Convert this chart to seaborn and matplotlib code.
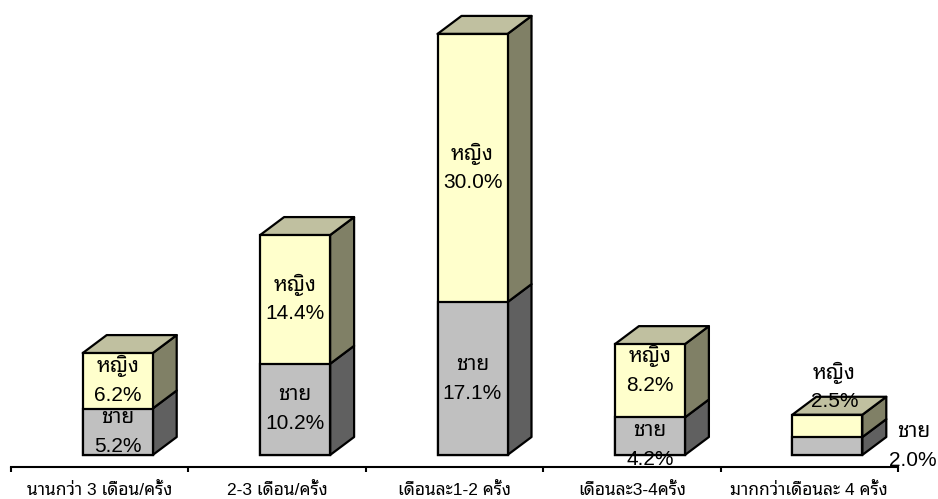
import matplotlib
matplotlib.use("Agg")
import matplotlib.pyplot as plt
from matplotlib.patches import Polygon
import numpy as np
import pandas as pd
import seaborn as sns

# Share of respondents by frequency and sex (percent)
frequency = ["นานกว่า 3 เดือน/ครั้ง", "2-3 เดือน/ครั้ง", "เดือนละ1-2 ครั้ง",
             "เดือนละ3-4ครั้ง", "มากกว่าเดือนละ 4 ครั้ง"]
male = [5.2, 10.2, 17.1, 4.2, 2.0]
female = [6.2, 14.4, 30.0, 8.2, 2.5]
male_name = "ชาย"
female_name = "หญิง"

# Manual label shifts in pixels (right, down), as placed by hand on the small bars
male_shift = [(0, 0), (0, 0), (0, 0), (0, 9), (86, 0)]
female_shift = [(0, 0), (0, 0), (0, 0), (0, -10), (7, -39)]

W, H = 938, 499
PX_PER_CAT = 177.4
PX_PER_PCT = 8.94
LEFT_PX, BASE_PX = 11, 455
DEPTH_X = 24 / PX_PER_CAT
DEPTH_Y = 18 / PX_PER_PCT
BAR_WIDTH = 70 / PX_PER_CAT
BAR_SHIFT = 18 / PX_PER_CAT

sns.set_theme(style="white")
text_font = ["Liberation Sans", "Noto Sans Thai Looped", "IBM Plex Sans Thai"]
plt.rcParams["font.family"] = text_font

fig = plt.figure(figsize=(W / 100, H / 100), dpi=100)
ax = fig.add_axes([0, 0, 1, 1])

pos = np.arange(len(frequency))
male_arr = np.array(male)
female_arr = np.array(female)
total = male_arr + female_arr
df = pd.DataFrame({"x": pos + BAR_SHIFT, "total": total, "male": male_arr})

edge = dict(edgecolor="black", linewidth=1.6)
sns.barplot(data=df, x="x", y="total", native_scale=True, width=BAR_WIDTH,
            color="#FFFFCC", saturation=1, ax=ax, zorder=3, **edge)
sns.barplot(data=df, x="x", y="male", native_scale=True, width=BAR_WIDTH,
            color="#C0C0C0", saturation=1, ax=ax, zorder=4, **edge)

# Oblique side and top faces that give each stack its depth
for xc, m, t in zip(df["x"], male_arr, total):
    r = xc + BAR_WIDTH / 2
    l = xc - BAR_WIDTH / 2
    faces = [
        ([(r, 0), (r + DEPTH_X, DEPTH_Y), (r + DEPTH_X, m + DEPTH_Y), (r, m)], "#606060"),
        ([(r, m), (r + DEPTH_X, m + DEPTH_Y), (r + DEPTH_X, t + DEPTH_Y), (r, t)], "#808066"),
        ([(l, t), (l + DEPTH_X, t + DEPTH_Y), (r + DEPTH_X, t + DEPTH_Y), (r, t)], "#C0C0A0"),
    ]
    for pts, colour in faces:
        ax.add_patch(Polygon(pts, closed=True, facecolor=colour, edgecolor="black",
                             linewidth=1.6, joinstyle="round", zorder=2))

# Two-line value labels centred on each segment
line_gap = 14.5
for i, xc in enumerate(df["x"]):
    segments = [
        (male_name, male_arr[i], male_arr[i] / 2, male_shift[i]),
        (female_name, female_arr[i], male_arr[i] + female_arr[i] / 2, female_shift[i]),
    ]
    for name, value, mid, (sx, sy) in segments:
        x = xc + sx / PX_PER_CAT
        y = mid - sy / PX_PER_PCT
        ax.text(x, y + line_gap / PX_PER_PCT, name, ha="center", va="center",
                fontsize=15, color="black", zorder=6)
        ax.text(x, y - line_gap / PX_PER_PCT, f"{value:.1f}%", ha="center", va="center",
                fontsize=15, color="black", zorder=6)

# Pixel-aligned data limits
ax.set_xlim(-0.5 - LEFT_PX / PX_PER_CAT, -0.5 + (W - LEFT_PX) / PX_PER_CAT)
ax.set_ylim(-(H - BASE_PX) / PX_PER_PCT, BASE_PX / PX_PER_PCT)

sns.despine(ax=ax, left=True)
ax.spines["bottom"].set_position(("data", -12 / PX_PER_PCT))
ax.spines["bottom"].set_bounds(-0.5, len(frequency) - 0.5)
ax.spines["bottom"].set_linewidth(1.5)
ax.spines["bottom"].set_color("black")
ax.set_xlabel("")
ax.set_ylabel("")
ax.set_yticks([])

ax.set_xticks(np.arange(len(frequency) + 1) - 0.5)
ax.set_xticklabels([])
ax.tick_params(axis="x", which="major", direction="out", length=3.5, width=1.5,
               color="black", bottom=True)
ax.set_xticks(pos, labels=frequency, minor=True)
ax.tick_params(axis="x", which="minor", length=0, pad=11, labelsize=12.5,
               labelcolor="black", bottom=False)
for lab in ax.get_xticklabels(minor=True):
    lab.set_family(text_font)

fig.savefig("out.png", dpi=100, facecolor="white")
